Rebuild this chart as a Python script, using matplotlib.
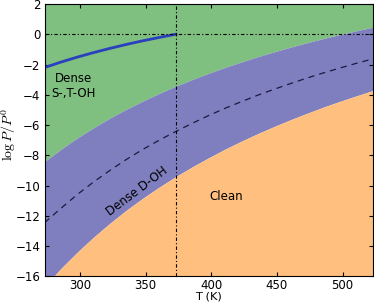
import numpy as np
import matplotlib
matplotlib.use('Agg')
import matplotlib.pyplot as plt

plt.rcParams['font.family'] = ['DejaVu Sans']
plt.rcParams['mathtext.fontset'] = 'cm'

# temperatures (K) and boundaries of log P/P0
T = [273, 285.5, 298, 310.5, 323, 335.5, 348, 360.5, 373, 385.5, 398, 410.5,
     423, 435.5, 448, 460.5, 473, 485.5, 498, 510.5, 523]
upper = [-8.41, -7.60, -6.85, -6.17, -5.53, -4.95, -4.41, -3.90, -3.43, -2.99, -2.58,
         -2.19, -1.83, -1.48, -1.16, -0.85, -0.56, -0.28, -0.02, 0.23, 0.46]
lower = [-16.66, -15.47, -14.39, -13.39, -12.47, -11.61, -10.82, -10.09, -9.40, -8.76,
         -8.16, -7.59, -7.06, -6.56, -6.09, -5.64, -5.22, -4.81, -4.43, -4.07, -3.72]
middle = [-12.45, -11.50, -10.58, -9.75, -8.98, -8.26, -7.60, -6.99, -6.42, -5.88,
          -5.37, -4.89, -4.45, -4.02, -3.63, -3.25, -2.89, -2.55, -2.23, -1.92, -1.63]

# water vapour curve
T_w = [273, 285.5, 298, 310.5, 323, 335.5, 348, 360.5, 373]
p_w = [-2.20, -1.84, -1.51, -1.21, -0.93, -0.67, -0.43, -0.21, 0.0]

fig = plt.figure(figsize=(3.74, 3.04), dpi=100)
ax = fig.add_axes([0.119, 0.0905, 0.878, 0.8965])

ymin, ymax = -16, 2
ax.fill_between(T, upper, ymax, color='#7fbf7f', lw=0)
ax.fill_between(T, lower, upper, color='#7f7fbf', lw=0)
ax.fill_between(T, ymin, lower, color='#ffc07f', lw=0)

ax.plot(T, middle, color='#1a1a40', ls='--', lw=0.9, dashes=(5, 4))
ax.plot(T_w, p_w, color='#2a40bf', lw=2)
ax.axhline(0, color='black', lw=0.8, dashes=(3, 2, 1, 2))
ax.axvline(373, color='black', lw=0.8, dashes=(3, 2, 1, 2))

ax.text(294.7, -3.4, 'Dense\nS-,T-OH', ha='center', va='center', fontsize=8.5)
ax.text(343.6, -10.4, 'Dense D-OH', ha='center', va='center', fontsize=8.5, rotation=37)
ax.text(411.6, -10.7, 'Clean', ha='center', va='center', fontsize=8.5)

ax.set_xlim(273, 523)
ax.set_ylim(ymin, ymax)
ax.set_xticks([300, 350, 400, 450, 500])
ax.set_yticks(np.arange(-16, 3, 2))
ax.tick_params(direction='in', top=True, right=True, labelsize=8.5, length=3, pad=3)
ax.tick_params(axis='x', pad=2)
ax.set_xlabel('T (K)', fontsize=8.2)
ax.set_ylabel(r'$\log P/P^0$', fontsize=10)
ax.xaxis.set_label_coords(0.5, -0.055)
ax.yaxis.set_label_coords(-0.082, 0.52)

fig.savefig('out.png', dpi=100)
